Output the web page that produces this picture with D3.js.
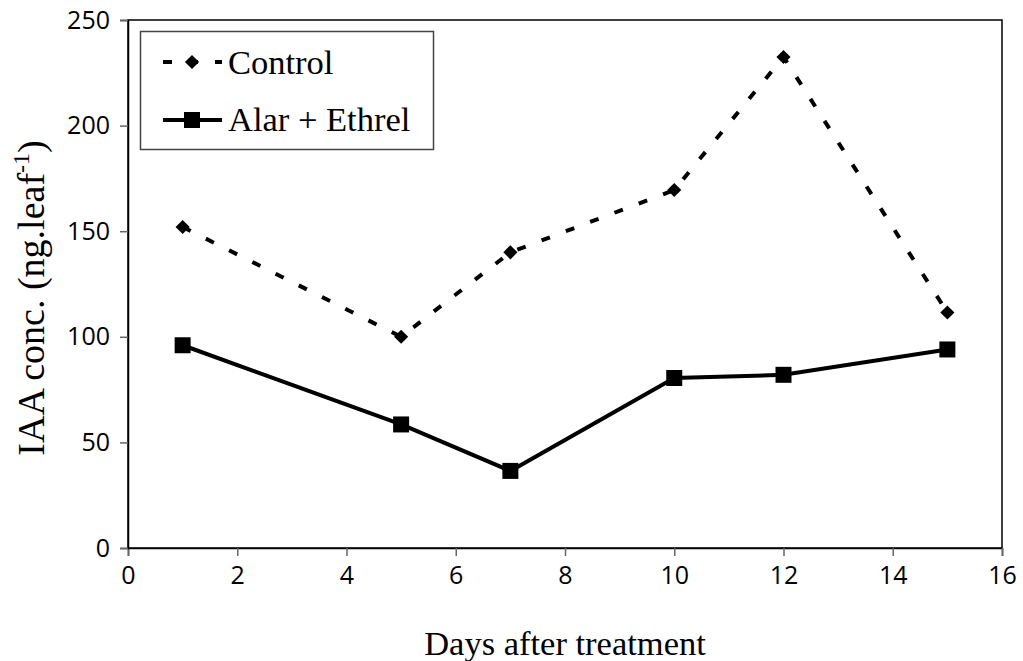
<!DOCTYPE html>
<html>
<head>
<meta charset="utf-8">
<script src="https://cdn.jsdelivr.net/npm/d3@7"></script>
<style>
  html, body { margin: 0; padding: 0; background: #fff; }
  svg { display: block; }
</style>
</head>
<body>
<svg id="chart" width="1023" height="661"></svg>
<script>
// Days after treatment
const days = [1, 5, 7, 10, 12, 15];
// IAA concentration (ng per leaf)
const controlValues = [152, 100, 140, 169.5, 232.5, 111.5];
const alarEthrelValues = [96, 58.5, 36.5, 80.5, 82, 94];
const xTicks = [0, 2, 4, 6, 8, 10, 12, 14, 16];
const yTicks = [0, 50, 100, 150, 200, 250];

(function () {
  const svg = d3.select("#chart");
  const plotLeft = 128, plotRight = 1002, plotTop = 20, plotBottom = 548;
  const serif = "'Liberation Serif', 'Times New Roman', serif";
  const sans = "'Open Sans', sans-serif";

  const x = d3.scaleLinear().domain([0, 16]).range([plotLeft, plotRight]);
  const y = d3.scaleLinear().domain([0, 250]).range([plotBottom, plotTop]);

  // Plot frame
  svg.append("rect")
    .attr("x", plotLeft).attr("y", plotTop)
    .attr("width", plotRight - plotLeft).attr("height", plotBottom - plotTop)
    .attr("fill", "none").attr("stroke", "#000").attr("stroke-width", 1.5);

  // X axis
  const xAxis = svg.append("g")
    .attr("transform", `translate(0,${plotBottom})`)
    .call(d3.axisBottom(x).tickValues(xTicks).tickSize(8).tickPadding(10).tickFormat(d3.format("d")));
  xAxis.select(".domain").attr("stroke", "#000").attr("stroke-width", 1.5);
  xAxis.selectAll(".tick line").attr("stroke", "#666").attr("stroke-width", 1.5);
  xAxis.selectAll("text")
    .attr("font-family", sans).attr("font-size", 25).attr("fill", "#000");

  // Y axis
  const yAxis = svg.append("g")
    .attr("transform", `translate(${plotLeft},0)`)
    .call(d3.axisLeft(y).tickValues(yTicks).tickSize(8).tickPadding(10).tickFormat(d3.format("d")));
  yAxis.select(".domain").attr("stroke", "#000").attr("stroke-width", 1.5);
  yAxis.selectAll(".tick line").attr("stroke", "#666").attr("stroke-width", 1.5);
  yAxis.selectAll("text")
    .attr("font-family", sans).attr("font-size", 25).attr("fill", "#000");

  // Axis titles
  svg.append("text")
    .attr("x", (plotLeft + plotRight) / 2).attr("y", 655)
    .attr("text-anchor", "middle")
    .attr("font-family", serif)
    .attr("font-size", 34.5)
    .text("Days after treatment");

  const yTitle = svg.append("text")
    .attr("transform", "translate(44,298) rotate(-90)")
    .attr("text-anchor", "middle")
    .attr("font-family", serif)
    .attr("font-size", 38);
  yTitle.append("tspan").text("IAA conc. (ng.leaf");
  yTitle.append("tspan").attr("font-size", 24).attr("dy", -15).text("-1");
  yTitle.append("tspan").attr("dy", 15).text(")");

  const line = d3.line().x(d => x(d[0])).y(d => y(d[1]));
  const controlData = days.map((d, i) => [d, controlValues[i]]);
  const alarData = days.map((d, i) => [d, alarEthrelValues[i]]);

  const dash = "9,17";

  // Control series: dashed line with diamonds
  svg.append("path").datum(controlData)
    .attr("d", line).attr("fill", "none").attr("stroke", "#000")
    .attr("stroke-width", 4).attr("stroke-dasharray", dash);
  const diamond = d3.symbol().type(d3.symbolSquare).size(100);
  svg.selectAll(".ctrl").data(controlData).join("path")
    .attr("class", "ctrl")
    .attr("d", diamond)
    .attr("transform", d => `translate(${x(d[0])},${y(d[1])}) rotate(45)`)
    .attr("fill", "#000");

  // Alar + Ethrel series: solid line with squares
  svg.append("path").datum(alarData)
    .attr("d", line).attr("fill", "none").attr("stroke", "#000")
    .attr("stroke-width", 4);
  const square = d3.symbol().type(d3.symbolSquare).size(256);
  svg.selectAll(".alar").data(alarData).join("path")
    .attr("class", "alar")
    .attr("d", square)
    .attr("transform", d => `translate(${x(d[0])},${y(d[1])})`)
    .attr("fill", "#000");

  // Legend
  const legend = svg.append("g");
  legend.append("rect")
    .attr("x", 140.5).attr("y", 31.5).attr("width", 293).attr("height", 118)
    .attr("fill", "#fff").attr("stroke", "#444").attr("stroke-width", 1.5);

  legend.append("line")
    .attr("x1", 163).attr("x2", 222).attr("y1", 62).attr("y2", 62)
    .attr("stroke", "#000").attr("stroke-width", 4).attr("stroke-dasharray", dash);
  legend.append("path").attr("d", diamond)
    .attr("transform", "translate(192,62) rotate(45)").attr("fill", "#000");
  legend.append("text")
    .attr("x", 228).attr("y", 74)
    .attr("font-family", serif)
    .attr("font-size", 34.5).text("Control");

  legend.append("line")
    .attr("x1", 163).attr("x2", 222).attr("y1", 120).attr("y2", 120)
    .attr("stroke", "#000").attr("stroke-width", 4);
  legend.append("path").attr("d", square)
    .attr("transform", "translate(192,120)").attr("fill", "#000");
  legend.append("text")
    .attr("x", 228).attr("y", 131)
    .attr("font-family", serif)
    .attr("font-size", 34.5).text("Alar + Ethrel");
})();
</script>
</body>
</html>
